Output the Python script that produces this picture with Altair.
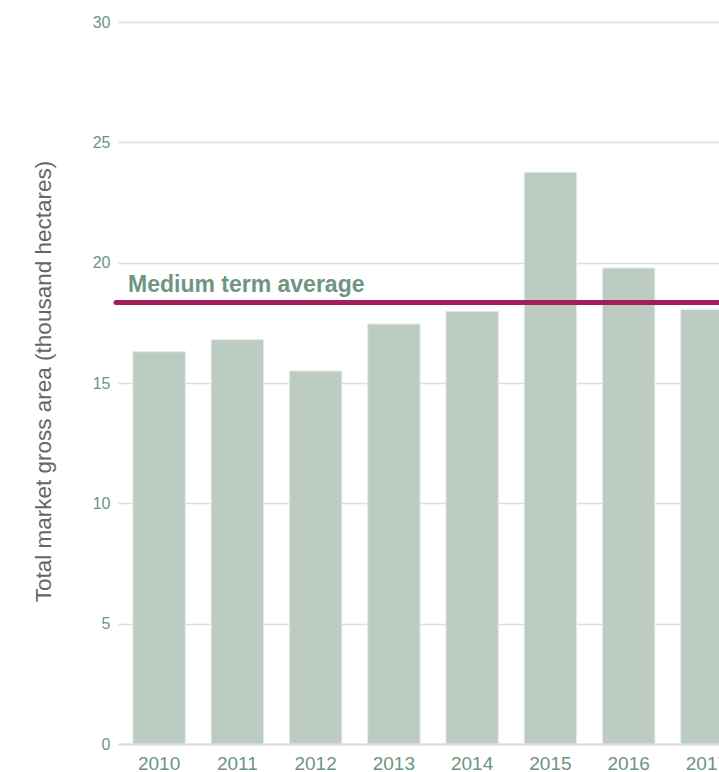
import altair as alt
import pandas as pd

years = ["2010", "2011", "2012", "2013", "2014", "2015", "2016", "2017"]
areas = [16.3, 16.8, 15.5, 17.45, 17.98, 23.76, 19.78, 18.05]
avg_value = [18.35]
avg_label = ["Medium term average"]

bars_df = pd.DataFrame({"year": years, "area": areas})
avg_df = pd.DataFrame({"avg": avg_value, "label": avg_label})

FONT = "Liberation Sans"
LABEL_COLOR = "#6B967E"

x_scale = alt.Scale(domain=years, range=[0, 630], paddingInner=0.33, paddingOuter=0.19)
y_scale = alt.Scale(domain=[0, 30], nice=False)

bars = alt.Chart(bars_df).mark_bar(
    color="#BCCCC3", stroke="#E4EBE6", strokeWidth=1
).encode(
    x=alt.X("year:N", scale=x_scale, sort=years,
            axis=alt.Axis(title=None, labelAngle=0, ticks=False, domain=True,
                          domainColor="#D9D9D9", domainWidth=2, grid=False,
                          labelFont=FONT, labelFontSize=19, labelColor=LABEL_COLOR,
                          labelPadding=10)),
    y=alt.Y("area:Q", scale=y_scale,
            axis=alt.Axis(title="Total market gross area (thousand hectares)",
                          values=[0, 5, 10, 15, 20, 25, 30],
                          domain=False, ticks=False, grid=True,
                          gridColor="#DDDDDD", gridWidth=1.5,
                          labelFont=FONT, labelFontSize=16, labelColor=LABEL_COLOR,
                          labelPadding=8,
                          titleFont=FONT, titleFontSize=22.5, titleFontWeight="normal",
                          titleColor="#666666", titleX=-68, titleY=359,
                          titleAlign="center", titleBaseline="alphabetic")),
)

rule = alt.Chart(avg_df).mark_rule(
    color="#A11D5C", strokeWidth=5, strokeCap="round"
).encode(
    y=alt.Y("avg:Q", scale=y_scale),
    x=alt.value(-2),
    x2=alt.value(640),
)

label = alt.Chart(avg_df).mark_text(
    align="left", baseline="alphabetic", dx=0, dy=-10,
    font=FONT, fontSize=23, fontWeight="bold", color="#6E957F"
).encode(
    y=alt.Y("avg:Q", scale=y_scale),
    x=alt.value(10),
    text="label:N",
)

chart = alt.layer(bars, rule, label).properties(
    width=601, height=722,
    autosize=alt.AutoSizeParams(type="none"),
    padding={"left": 118, "top": 22, "right": 0, "bottom": 28},
).configure_view(stroke=None)

chart.save("out.html", embed_options={"renderer": "svg", "actions": False})
